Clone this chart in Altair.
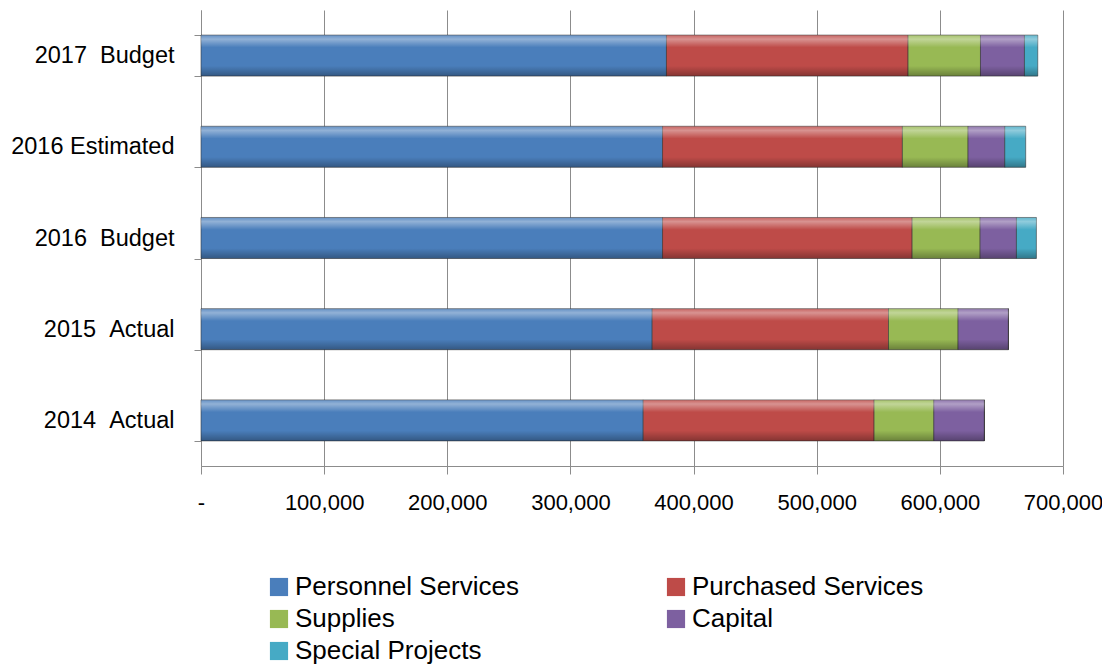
import altair as alt
import pandas as pd

categories = ["2014  Actual", "2015  Actual", "2016  Budget", "2016 Estimated", "2017  Budget"]
series = ["Personnel Services", "Purchased Services", "Supplies", "Capital", "Special Projects"]
personnel = [359100, 366400, 374800, 374800, 378000]
purchased = [187500, 191900, 202700, 194800, 196200]
supplies = [48500, 56500, 55200, 53300, 58800]
capital = [41100, 40900, 29500, 29800, 35700]
special = [0, 0, 16200, 17000, 10800]
colors = ["#4A7EBB", "#BE4B48", "#98B954", "#7D60A0", "#46AAC5"]
x_ticks = [0, 100000, 200000, 300000, 400000, 500000, 600000, 700000]

rows = []
for s_i, (name, vals) in enumerate(zip(series, [personnel, purchased, supplies, capital, special])):
    for c, v in zip(categories, vals):
        rows.append({"category": c, "series": name, "order": s_i, "value": v})
df = pd.DataFrame(rows)

FONT = "Liberation Sans"
y_order = list(reversed(categories))

x_enc = alt.X(
    "value:Q",
    stack="zero",
    scale=alt.Scale(domain=[0, 700000], nice=False),
    axis=alt.Axis(
        values=x_ticks, title=None, grid=True, gridColor="#8C8C8C", gridWidth=1,
        domainColor="#8C8C8C", tickColor="#8C8C8C", tickSize=8,
        labelFlush=False, labelOverlap=False,
        labelExpr="datum.value == 0 ? '-' : format(datum.value, ',')",
        labelFont=FONT, labelFontSize=22, labelColor="#000000", labelPadding=18,
    ),
)
y_enc = alt.Y(
    "category:N",
    sort=y_order,
    scale=alt.Scale(paddingInner=0.55, paddingOuter=0.275),
    axis=alt.Axis(
        title=None, tickBand="extent", domainColor="#8C8C8C", tickColor="#8C8C8C",
        tickSize=7, labelFont=FONT, labelFontSize=23.5, labelColor="#000000",
        labelPadding=20,
        labelExpr="replace(datum.label, '  ', '\u00a0\u00a0')",
    ),
)

base = alt.Chart(df).mark_bar(stroke="#303030", strokeWidth=0.8, strokeOpacity=0.7).encode(
    x=x_enc,
    y=y_enc,
    color=alt.Color(
        "series:N",
        scale=alt.Scale(domain=series, range=colors),
        legend=alt.Legend(
            title=None, orient="none", legendX=65, legendY=564, columns=2,
            direction="horizontal", symbolType="square", symbolSize=330,
            symbolStrokeWidth=0, labelFont=FONT, labelFontSize=26,
            labelColor="#000000", columnPadding=144, rowPadding=6,
            labelOffset=3, labelLimit=400,
        ),
    ),
    order=alt.Order("order:Q"),
)

gloss = alt.Chart(df).mark_bar(
    fill=alt.Gradient(
        gradient="linear", x1=0, x2=0, y1=0, y2=1,
        stops=[
            alt.GradientStop(offset=0, color="rgba(255,255,255,0.15)"),
            alt.GradientStop(offset=0.1, color="rgba(255,255,255,0.40)"),
            alt.GradientStop(offset=0.3, color="rgba(255,255,255,0.0)"),
            alt.GradientStop(offset=0.75, color="rgba(0,0,0,0.0)"),
            alt.GradientStop(offset=1, color="rgba(0,0,0,0.30)"),
        ],
    ),
).encode(x=alt.X("value:Q", stack="zero"), y=alt.Y("category:N", sort=y_order),
         detail="series:N", order=alt.Order("order:Q"))

chart = alt.layer(base, gloss).properties(
    width=862, height=456,
    autosize=alt.AutoSizeParams(type="none"),
    padding={"left": 193, "top": 2, "right": 39, "bottom": 202},
).configure_view(stroke=None)

chart.save("out.html", embed_options={"renderer": "svg", "actions": False})
